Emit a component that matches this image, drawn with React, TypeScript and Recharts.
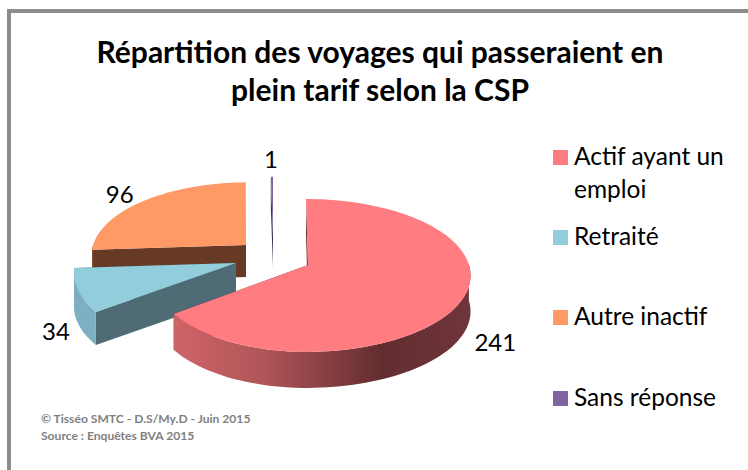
import { PieChart, Pie, Legend } from "recharts";

const CATEGORIES = ["Actif ayant un emploi", "Retraité", "Autre inactif", "Sans réponse"];
const VALUES = [241, 34, 96, 1];
const COLORS = ["#FF7C80", "#92CDDC", "#FF9966", "#8064A2"];
const CUT_COLORS = ["#6B2F31", "#4F6B75", "#673A26", "#3D2F50"];
const WALL_COLORS = ["url(#redWall)", "#7FB0C2", "#8A4F33", "#4A3A60"];

const TITLE = ["Répartition des voyages qui passeraient en", "plein tarif selon la CSP"];
const FOOTER = ["© Tisséo SMTC - D.S/My.D - Juin 2015", "Source : Enquêtes BVA 2015"];

const FONT = "Lato, Carlito, sans-serif";

// projection of the tilted pie
const PIE_CX = 272;
const PIE_CY = 265;
const RADIUS = 163;
const HEIGHT = 75;
const PERSPECTIVE = 0.137;

// per slice, same order as CATEGORIES
const EXPLODE = [
  [34, 0],
  [-36, -2],
  [-24, -20],
  [1, -29],
];
const SCALE = [1, 1, 0.95, 0.9];
const LEFT_SCALE = [0.93, 0.985, 1, 1];
const APEX_SHIFT = [2, 0, -2, 0];
const DEPTH = [36, 33, 32, 31];
const LABEL_NUDGE = [
  [34, 41],
  [-22, 40],
  [-24, -7],
  [-1, -18],
];

// slices are painted back to front, so the pie runs counter clockwise from the last one
const tableData = CATEGORIES.map((name, i) => ({ name, value: VALUES[i], slot: i })).reverse();

const project = (deg: number, slot: number) => {
  const a = (deg * Math.PI) / 180;
  const u = Math.sin(a);
  const v = Math.cos(a);
  const s = SCALE[slot] / (1 + PERSPECTIVE * v);
  const sx = u < 0 ? LEFT_SCALE[slot] : 1;
  return {
    x: PIE_CX + EXPLODE[slot][0] + RADIUS * u * s * sx,
    y: PIE_CY + EXPLODE[slot][1] - HEIGHT * v * s,
  };
};

const pts = (list: { x: number; y: number }[]) => list.map((p) => `${p.x},${p.y}`).join(" L");

const renderSlice = (props: any) => {
  const slot = props.payload?.slot ?? props.slot;
  const a0 = 90 - props.endAngle;
  const a1 = 90 - props.startAngle;
  const apex = { x: PIE_CX + EXPLODE[slot][0] + APEX_SHIFT[slot], y: PIE_CY + EXPLODE[slot][1] };
  const d = DEPTH[slot];

  const arc: { x: number; y: number }[] = [];
  const steps = Math.max(2, Math.ceil((a1 - a0) / 2));
  for (let i = 0; i <= steps; i++) arc.push(project(a0 + ((a1 - a0) * i) / steps, slot));

  const front: { x: number; y: number }[] = [];
  for (let i = 0; i <= steps; i++) {
    const deg = a0 + ((a1 - a0) * i) / steps;
    if (Math.cos((deg * Math.PI) / 180) <= 0.02) front.push(project(deg, slot));
  }
  const down = (p: { x: number; y: number }) => ({ x: p.x, y: p.y + d });

  const first = arc[0];
  const last = arc[arc.length - 1];
  return (
    <g>
      {/* cut faces */}
      <path
        d={`M${pts([apex, first, down(first), down(apex)])} Z`}
        fill={CUT_COLORS[slot]}
      />
      <path
        d={`M${pts([apex, last, down(last), down(apex)])} Z`}
        fill={CUT_COLORS[slot]}
      />
      {front.length > 1 && (
        <path
          d={`M${pts([...front, ...front.slice().reverse().map(down)])} Z`}
          fill={WALL_COLORS[slot]}
        />
      )}
      <path d={`M${pts([apex, ...arc])} Z`} fill={COLORS[slot]} />
    </g>
  );
};

const renderLabel = (props: any) => {
  const slot = props.payload?.slot ?? props.slot;
  const p = project(90 - props.midAngle, slot);
  return (
    <text
      x={p.x + LABEL_NUDGE[slot][0]}
      y={p.y + LABEL_NUDGE[slot][1]}
      textAnchor="middle"
      dominantBaseline="central"
      fontFamily={FONT}
      fontSize={24}
      fill="#000"
    >
      {props.value}
    </text>
  );
};

const LEGEND_TOPS = [150, 230, 310, 391];

const renderLegend = () => (
  <div style={{ position: "relative", width: 195, height: 290, fontFamily: FONT, fontSize: 24.5, color: "#000" }}>
    {CATEGORIES.map((name, i) => (
      <div key={name}>
        <div
          style={{
            position: "absolute",
            left: 0,
            top: LEGEND_TOPS[i] - 130,
            width: 15,
            height: 15,
            background: COLORS[i],
          }}
        />
        <div
          style={{
            position: "absolute",
            left: 21,
            top: LEGEND_TOPS[i] - 141,
            width: 165,
            lineHeight: "33px",
          }}
        >
          {name}
        </div>
      </div>
    ))}
  </div>
);

export default function App() {
  return (
    <div style={{ position: "absolute", left: 0, top: 0, width: 748, height: 470, background: "#fff", overflow: "hidden" }}>
      <div style={{ position: "absolute", left: 7, top: 9, width: 760, height: 480, border: "4px solid #8C8C8C", boxSizing: "border-box" }} />
      <PieChart width={748} height={470} margin={{ top: 0, right: 0, bottom: 0, left: 0 }} style={{ position: "absolute", left: 0, top: 0 }}>
        <defs>
          <linearGradient id="redWall" gradientUnits="userSpaceOnUse" x1={174} y1={0} x2={471} y2={0}>
            <stop offset="0" stopColor="#CF6468" />
            <stop offset="0.3" stopColor="#B05558" />
            <stop offset="0.7" stopColor="#632D30" />
            <stop offset="1" stopColor="#70353A" />
          </linearGradient>
        </defs>
        <text textAnchor="middle" fontFamily={FONT} fontWeight={700} fontSize={30} fill="#000">
          <tspan x={380} y={63}>{TITLE[0]}</tspan>
          <tspan x={380} y={101}>{TITLE[1]}</tspan>
        </text>
        <Pie
          data={tableData}
          dataKey="value"
          nameKey="name"
          cx={PIE_CX}
          cy={PIE_CY}
          outerRadius={RADIUS}
          startAngle={90}
          endAngle={450}
          paddingAngle={0}
          stroke="none"
          isAnimationActive={false}
          shape={renderSlice}
          label={renderLabel}
          labelLine={false}
        />
        <Legend content={renderLegend} layout="vertical" wrapperStyle={{ position: "absolute", left: 553, top: 130, width: 195 }} />
        <text fontFamily={FONT} fontWeight={700} fontSize={12.1} fill="#7F7F7F">
          <tspan x={41} y={423}>{FOOTER[0]}</tspan>
          <tspan x={41} y={440}>{FOOTER[1]}</tspan>
        </text>
      </PieChart>
    </div>
  );
}
